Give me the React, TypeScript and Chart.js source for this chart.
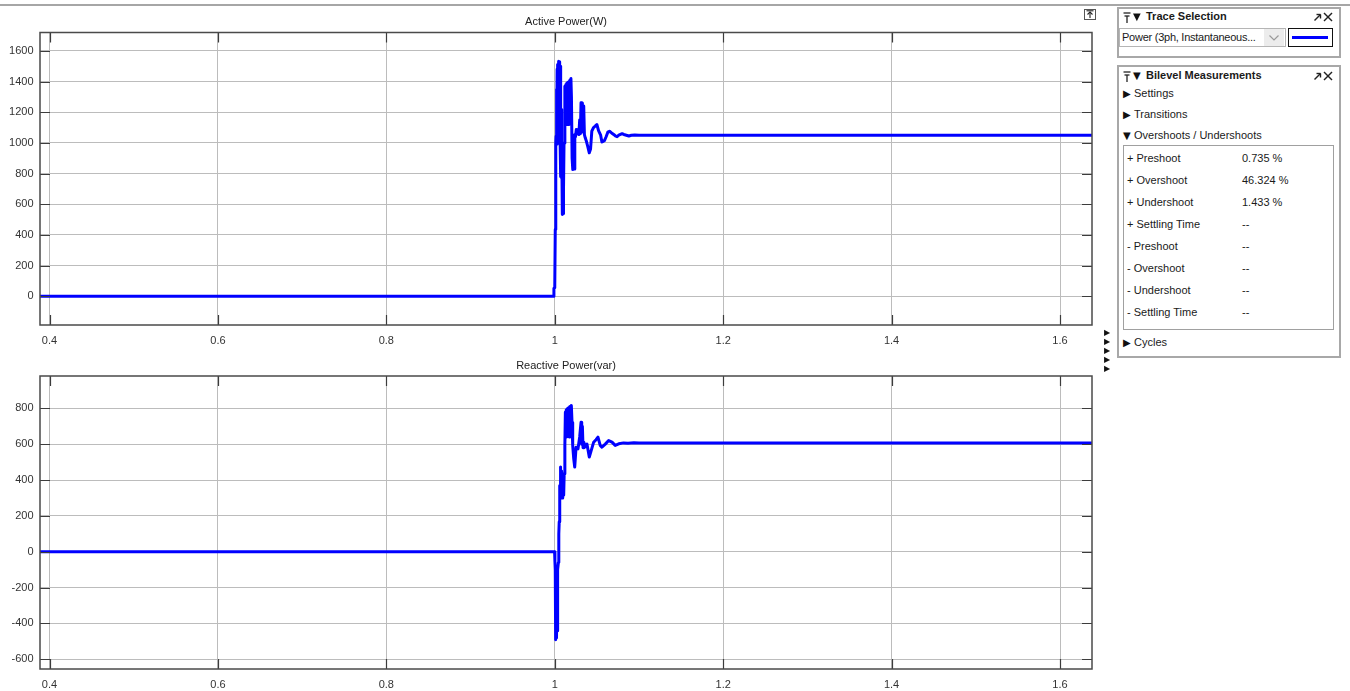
import React, { useEffect, useRef } from 'react';
import { Chart, registerables } from 'chart.js';

Chart.register(...registerables);

// Axis ticks
const timeTicks = [0.4, 0.6, 0.8, 1.0, 1.2, 1.4, 1.6];
const activeTicks = [0, 200, 400, 600, 800, 1000, 1200, 1400, 1600];
const reactiveTicks = [-600, -400, -200, 0, 200, 400, 600, 800];

// Active power (W) samples
const activeTime = [
  0.388, 0.9988, 0.999, 1.0, 1.0006, 1.0012, 1.0016, 1.002, 1.0024, 1.0028,
  1.0032, 1.0036, 1.004, 1.0044, 1.0048, 1.0052, 1.0056, 1.006, 1.0064, 1.0068,
  1.0072, 1.0076, 1.008, 1.0084, 1.009, 1.0098, 1.0104, 1.011, 1.012, 1.0126,
  1.0132, 1.0138, 1.0144, 1.015, 1.0156, 1.0162, 1.0168, 1.0174, 1.018, 1.0186,
  1.0192, 1.0198, 1.0206, 1.0214, 1.0222, 1.023, 1.0238, 1.0246, 1.0256, 1.0266,
  1.0276, 1.0286, 1.0296, 1.0304, 1.0312, 1.032, 1.0328, 1.0336, 1.0344, 1.0352,
  1.0362, 1.0376, 1.039, 1.041, 1.0425, 1.044, 1.046, 1.048, 1.05, 1.052,
  1.0545, 1.056, 1.0575, 1.059, 1.061, 1.063, 1.065, 1.0675, 1.07, 1.072,
  1.074, 1.076, 1.078, 1.08, 1.082, 1.085, 1.088, 1.091, 1.095, 1.1, 1.64,
];
const activeValue = [
  0, 0, 52, 55, 435, 1000, 1043, 1350, 990, 1480,
  1000, 1511, 1050, 1533, 1000, 1530, 990, 1520, 1000, 1500,
  780, 1217, 770, 1000, 533, 540, 700, 1000, 1370, 1120,
  1380, 1120, 1390, 1130, 1395, 1120, 1400, 1130, 1410, 1140,
  1420, 1300, 900, 826, 900, 830, 1054, 1040, 1087, 1060,
  1087, 1054, 1150, 1060, 1261, 1070, 1260, 1080, 1240, 1054,
  1033, 1010, 980, 935, 960, 1076, 1100, 1109, 1120, 1080,
  1050, 1006, 1010, 1015, 1040, 1070, 1076, 1065, 1055, 1045,
  1040, 1050, 1055, 1060, 1055, 1050, 1045, 1050, 1052, 1050, 1050,
];

// Reactive power (var) samples
const reactiveTime = [
  0.388, 0.9998, 1.0002, 1.0006, 1.0009, 1.0012, 1.0015, 1.0018, 1.0021, 1.0024,
  1.0028, 1.0032, 1.0036, 1.0043, 1.0048, 1.0053, 1.0059, 1.0063, 1.0067, 1.0071,
  1.0075, 1.0079, 1.0083, 1.0087, 1.0092, 1.0097, 1.0106, 1.0112, 1.012, 1.0126,
  1.0131, 1.0136, 1.0141, 1.0146, 1.0151, 1.0156, 1.0161, 1.0166, 1.0171, 1.0176,
  1.0181, 1.0197, 1.0205, 1.0213, 1.0225, 1.0237, 1.0253, 1.0276, 1.0296, 1.0312,
  1.032, 1.0328, 1.0336, 1.0345, 1.0365, 1.0383, 1.041, 1.043, 1.0462, 1.049,
  1.0513, 1.054, 1.056, 1.06, 1.064, 1.068, 1.0718, 1.076, 1.0817, 1.087,
  1.094, 1.1, 1.64,
];
const reactiveValue = [
  0, 0, -56, -100, -491, -150, -480, -160, -470, -200,
  -440, -130, -100, -60, 100, 167, 370, 300, 472, 315,
  450, 320, 440, 300, 430, 315, 315, 435, 593, 778,
  650, 790, 640, 795, 645, 800, 650, 805, 640, 810,
  660, 815, 720, 593, 520, 472, 583, 574, 640, 722,
  600, 700, 580, 610, 585, 600, 528, 560, 611, 625,
  639, 593, 583, 600, 620, 611, 593, 602, 607, 605,
  608, 607, 607,
];

const X_MIN = 0.3887;
const X_MAX = 1.638;

const TICK_FONT = { family: '"Liberation Sans", Arial, sans-serif', size: 11 };
const TEXT = '#333333';
const GRID = '#bcbcbc';

// Draws the scope frame, inward tick marks on all four sides and the plot title.
const scopeFrame = {
  id: 'scopeFrame',
  afterDraw(chart: any, _args: any, opts: any) {
    const { ctx, chartArea: a, scales } = chart;
    ctx.save();
    ctx.strokeStyle = '#3c3c3c';
    ctx.lineWidth = 1.2;
    for (const t of scales.x.ticks) {
      const px = Math.round(scales.x.getPixelForValue(t.value)) + 0.5;
      ctx.beginPath();
      ctx.moveTo(px, a.top);
      ctx.lineTo(px, a.top + 10);
      ctx.moveTo(px, a.bottom);
      ctx.lineTo(px, a.bottom - 10);
      ctx.stroke();
    }
    for (const t of scales.y.ticks) {
      const py = Math.round(scales.y.getPixelForValue(t.value)) + 0.5;
      ctx.beginPath();
      ctx.moveTo(a.left, py);
      ctx.lineTo(a.left + 10, py);
      ctx.moveTo(a.right, py);
      ctx.lineTo(a.right - 10, py);
      ctx.stroke();
    }
    ctx.strokeStyle = '#4a4a4a';
    ctx.lineWidth = 1.5;
    ctx.strokeRect(a.left, a.top, a.right - a.left, a.bottom - a.top);
    ctx.font = '11px "Liberation Sans", Arial, sans-serif';
    ctx.fillStyle = '#222222';
    ctx.textAlign = 'center';
    ctx.textBaseline = 'middle';
    ctx.fillText(opts.title, (a.left + a.right) / 2, a.top - 10.5);
    ctx.restore();
  },
};

function fmtTime(v: number) {
  return String(Number(v.toFixed(1)));
}

function buildConfig(
  title: string,
  times: number[],
  values: number[],
  yMin: number,
  yMax: number,
  yTicks: number[],
  padTop: number,
  xHeight: number,
): any {
  return {
    type: 'line',
    data: {
      datasets: [
        {
          data: times.map((t, i) => ({ x: t, y: values[i] })),
          borderColor: '#0000ff',
          borderWidth: 3,
          pointRadius: 0,
          tension: 0,
          fill: false,
          borderJoinStyle: 'round',
        },
      ],
    },
    options: {
      animation: false,
      responsive: false,
      devicePixelRatio: 1,
      layout: { padding: { top: padTop, right: 8, left: 0, bottom: 0 } },
      plugins: {
        legend: { display: false },
        tooltip: { enabled: false },
        scopeFrame: { title },
      },
      scales: {
        x: {
          type: 'linear',
          min: X_MIN,
          max: X_MAX,
          afterBuildTicks: (s: any) => {
            s.ticks = timeTicks.map((v) => ({ value: v }));
          },
          afterFit: (s: any) => {
            s.height = xHeight;
          },
          grid: { color: GRID, lineWidth: 1, drawTicks: false },
          border: { display: false },
          ticks: {
            padding: 9,
            font: TICK_FONT,
            color: TEXT,
            maxRotation: 0,
            autoSkip: false,
            callback: (v: any) => fmtTime(Number(v)),
          },
        },
        y: {
          type: 'linear',
          min: yMin,
          max: yMax,
          afterBuildTicks: (s: any) => {
            s.ticks = yTicks.map((v) => ({ value: v }));
          },
          afterFit: (s: any) => {
            s.width = 40;
          },
          grid: { color: GRID, lineWidth: 1, drawTicks: false },
          border: { display: false },
          ticks: {
            padding: 6.5,
            font: TICK_FONT,
            color: TEXT,
            autoSkip: false,
            callback: (v: any) => String(v),
          },
        },
      },
    },
    plugins: [scopeFrame],
  };
}

function ScopePlot(props: {
  top: number;
  height: number;
  title: string;
  times: number[];
  values: number[];
  yMin: number;
  yMax: number;
  yTicks: number[];
  padTop: number;
  xHeight: number;
}) {
  const ref = useRef<HTMLCanvasElement | null>(null);
  useEffect(() => {
    if (!ref.current) return;
    const chart = new Chart(
      ref.current,
      buildConfig(
        props.title,
        props.times,
        props.values,
        props.yMin,
        props.yMax,
        props.yTicks,
        props.padTop,
        props.xHeight,
      ),
    );
    return () => chart.destroy();
  }, []);
  return (
    <canvas
      ref={ref}
      width={1100}
      height={props.height}
      style={{ position: 'absolute', left: 0, top: props.top, width: 1100, height: props.height, display: 'block' }}
    />
  );
}

const UI_FONT = '"Liberation Sans", Arial, sans-serif';

function PinIcon({ x, y }: { x: number; y: number }) {
  return (
    <svg width={8} height={11} style={{ position: 'absolute', left: x, top: y }}>
      <line x1={0.5} y1={1} x2={7.5} y2={1} stroke="#222" strokeWidth={1.3} />
      <line x1={1.5} y1={4} x2={6.5} y2={4} stroke="#222" strokeWidth={1.3} />
      <line x1={4} y1={4} x2={4} y2={11} stroke="#222" strokeWidth={1.3} />
    </svg>
  );
}

function PanelHeader({ top, label }: { top: number; label: string }) {
  return (
    <>
      <PinIcon x={1123} y={top - 5} />
      <div style={{ position: 'absolute', left: 1133, top: top - 7, fontSize: 10, fontFamily: 'DejaVu Sans', color: '#111', lineHeight: '13px' }}>▼</div>
      <div style={{ position: 'absolute', left: 1146, top: top - 7, fontSize: 11, fontWeight: 700, fontFamily: UI_FONT, color: '#1a1a1a', lineHeight: '13px' }}>{label}</div>
      <svg width={9} height={9} style={{ position: 'absolute', left: 1313, top: top - 4 }}>
        <line x1={1.5} y1={7.5} x2={7.5} y2={1.5} stroke="#222" strokeWidth={1.4} />
        <line x1={3.5} y1={1.5} x2={7.5} y2={1.5} stroke="#222" strokeWidth={1.4} />
        <line x1={7.5} y1={1.5} x2={7.5} y2={5.5} stroke="#222" strokeWidth={1.4} />
      </svg>
      <svg width={10} height={10} style={{ position: 'absolute', left: 1323, top: top - 5 }}>
        <line x1={1} y1={1} x2={9} y2={9} stroke="#222" strokeWidth={1.5} />
        <line x1={9} y1={1} x2={1} y2={9} stroke="#222" strokeWidth={1.5} />
      </svg>
    </>
  );
}

function Section({ top, label, open }: { top: number; label: string; open?: boolean }) {
  return (
    <>
      <div style={{ position: 'absolute', left: 1123, top: top - 7, fontSize: 10, fontFamily: 'DejaVu Sans', color: '#111', lineHeight: '13px' }}>{open ? '▼' : '▶'}</div>
      <div style={{ position: 'absolute', left: 1134, top: top - 7, fontSize: 11, fontFamily: UI_FONT, color: '#1a1a1a', lineHeight: '13px' }}>{label}</div>
    </>
  );
}

// Overshoot / undershoot measurement rows
const measureNames = [
  '+ Preshoot',
  '+ Overshoot',
  '+ Undershoot',
  '+ Settling Time',
  '- Preshoot',
  '- Overshoot',
  '- Undershoot',
  '- Settling Time',
];
const measureValues = ['0.735 %', '46.324 %', '1.433 %', '--', '--', '--', '--', '--'];

function SidePanel() {
  const rowTop = 159;
  const rowStep = 22;
  return (
    <>
      {/* Trace selection box */}
      <div style={{ position: 'absolute', left: 1117, top: 7, width: 220, height: 47, border: '2px solid #a8a8a8', background: '#fff' }} />
      <PanelHeader top={17} label="Trace Selection" />
      <div style={{ position: 'absolute', left: 1119, top: 28, width: 165, height: 17, border: '1px solid #b5b5b5', background: '#fff' }} />
      <div style={{ position: 'absolute', left: 1122, top: 29, fontSize: 11, letterSpacing: -0.25, fontFamily: UI_FONT, color: '#1a1a1a', lineHeight: '16px', whiteSpace: 'nowrap' }}>
        Power (3ph, Instantaneous...
      </div>
      <div style={{ position: 'absolute', left: 1264, top: 29, width: 20, height: 17, background: '#ececec' }} />
      <svg width={10} height={6} style={{ position: 'absolute', left: 1269, top: 35 }}>
        <polyline points="0.5,0.5 5,5 9.5,0.5" fill="none" stroke="#9a9a9a" strokeWidth={1.2} />
      </svg>
      <div style={{ position: 'absolute', left: 1288, top: 28, width: 43, height: 17, border: '1px solid #111', background: '#fff' }} />
      <div style={{ position: 'absolute', left: 1292, top: 36, width: 36, height: 3, background: '#0000ff' }} />

      {/* Bilevel measurements box */}
      <div style={{ position: 'absolute', left: 1117, top: 65, width: 220, height: 289, border: '2px solid #a8a8a8', background: '#fff' }} />
      <PanelHeader top={76} label="Bilevel Measurements" />
      <Section top={94} label="Settings" />
      <Section top={115} label="Transitions" />
      <Section top={136} label="Overshoots / Undershoots" open />
      <div style={{ position: 'absolute', left: 1123, top: 145, width: 209, height: 183, border: '1px solid #a0a0a0', background: '#fff' }} />
      {measureNames.map((name, i) => (
        <React.Fragment key={name}>
          <div style={{ position: 'absolute', left: 1127, top: rowTop + i * rowStep - 7, fontSize: 11, fontFamily: UI_FONT, color: '#1a1a1a', lineHeight: '13px', whiteSpace: 'nowrap' }}>{name}</div>
          <div style={{ position: 'absolute', left: 1242, top: rowTop + i * rowStep - 7, fontSize: 11, fontFamily: UI_FONT, color: '#1a1a1a', lineHeight: '13px', whiteSpace: 'nowrap' }}>{measureValues[i]}</div>
        </React.Fragment>
      ))}
      <Section top={343} label="Cycles" />
    </>
  );
}

export default function App() {
  return (
    <div style={{ position: 'absolute', left: 0, top: 0, width: 1350, height: 691, overflow: 'hidden', background: '#fff' }}>
      <div style={{ position: 'absolute', left: 0, top: 4, width: 1350, height: 2, background: '#a6a6a6' }} />
      <ScopePlot
        top={0}
        height={350}
        title="Active Power(W)"
        times={activeTime}
        values={activeValue}
        yMin={-188}
        yMax={1720}
        yTicks={activeTicks}
        padTop={32.5}
        xHeight={25}
      />
      <ScopePlot
        top={350}
        height={341}
        title="Reactive Power(var)"
        times={reactiveTime}
        values={reactiveValue}
        yMin={-654}
        yMax={980}
        yTicks={reactiveTicks}
        padTop={26}
        xHeight={22}
      />
      {/* undock button above the top plot */}
      <div style={{ position: 'absolute', left: 1084, top: 9, width: 10, height: 9, border: '1px solid #555', background: '#fff' }} />
      <svg width={8} height={8} style={{ position: 'absolute', left: 1086, top: 10 }}>
        <line x1={0.5} y1={0.8} x2={7.5} y2={0.8} stroke="#222" strokeWidth={1.1} />
        <polyline points="1.5,4.5 4,2 6.5,4.5" fill="none" stroke="#222" strokeWidth={1.1} />
        <line x1={4} y1={2} x2={4} y2={8} stroke="#222" strokeWidth={1.1} />
      </svg>
      {/* collapsed-section markers between the plots and the panel */}
      {[333, 342, 351, 360, 369].map((y) => (
        <div key={y} style={{ position: 'absolute', left: 1104, top: y - 5, fontSize: 8, fontFamily: 'DejaVu Sans', color: '#111', lineHeight: '10px' }}>▶</div>
      ))}
      <SidePanel />
    </div>
  );
}
